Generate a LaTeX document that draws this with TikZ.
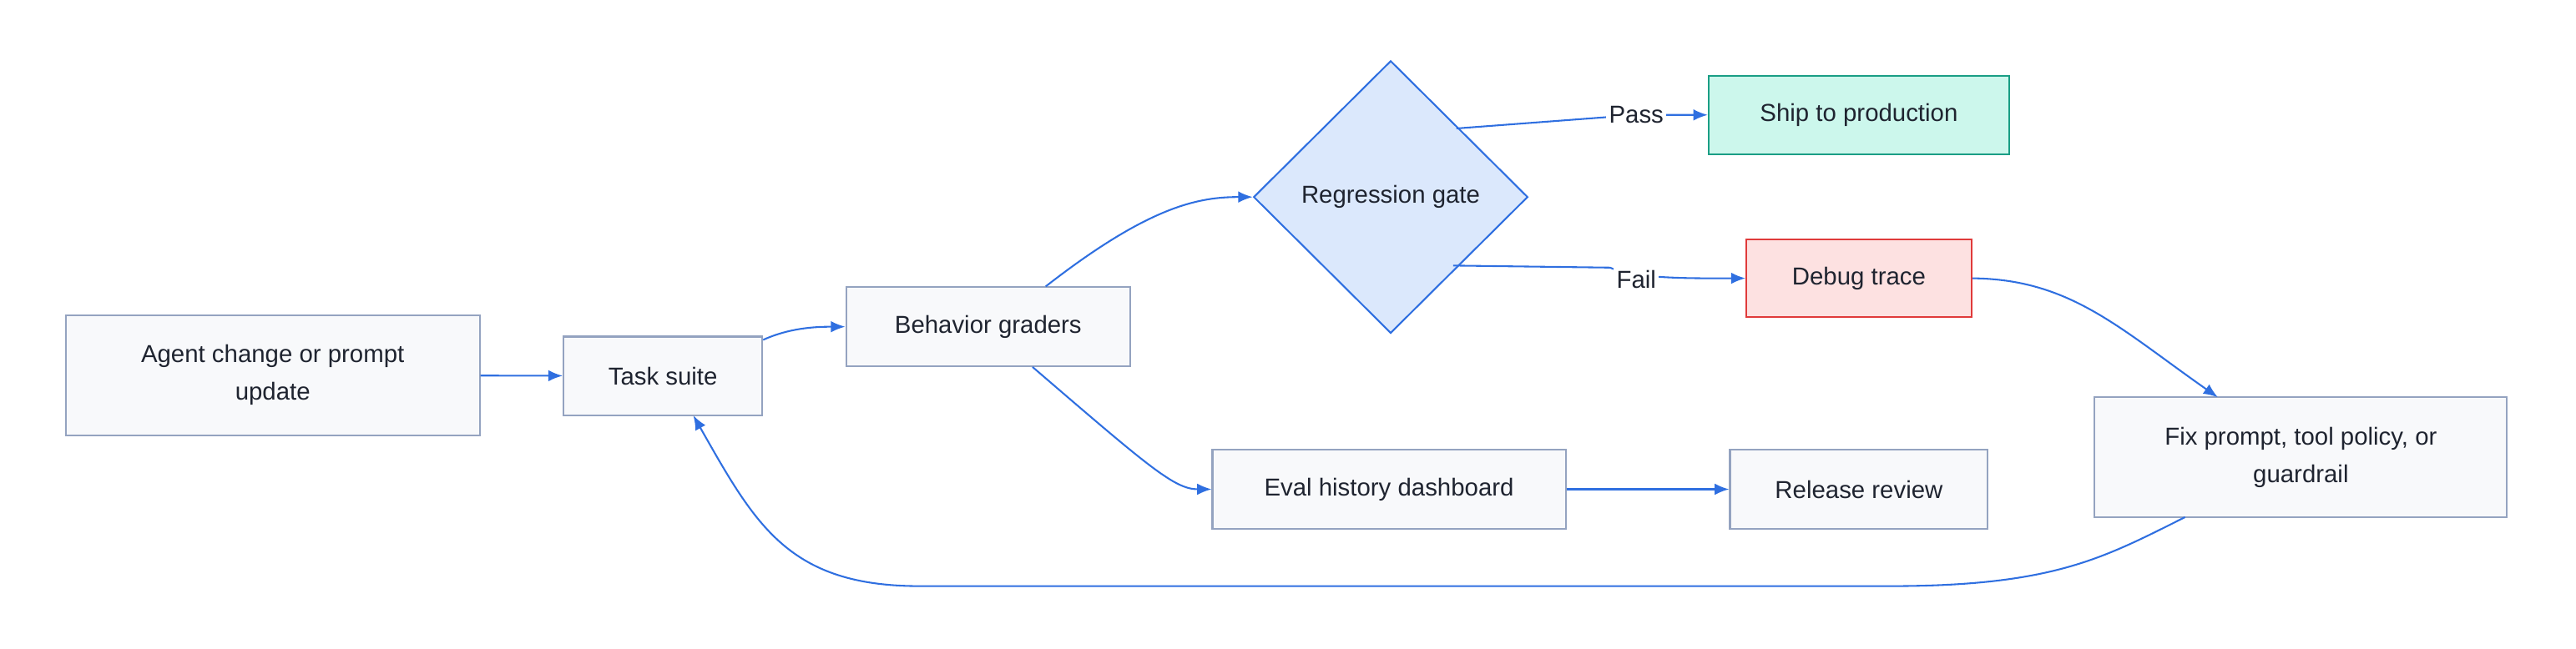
\documentclass[tikz,border=0pt]{standalone}
\usepackage{fontspec}
\setmainfont{Liberation Sans}
\usetikzlibrary{shapes.geometric,arrows.meta}
\definecolor{boxfill}{HTML}{F8F9FB}
\definecolor{boxline}{HTML}{94A3C0}
\definecolor{edge}{HTML}{2F6FE0}
\definecolor{gatefill}{HTML}{DBE8FC}
\definecolor{shipfill}{HTML}{CCF7EC}
\definecolor{shipline}{HTML}{1A9E85}
\definecolor{dbgfill}{HTML}{FDE1E1}
\definecolor{dbgline}{HTML}{E03A3A}
\definecolor{txt}{HTML}{1F2430}
\tikzset{
 box/.style={draw=boxline,fill=boxfill,line width=0.6pt,rectangle,align=center,text=txt,font=\fontsize{8.5}{13}\selectfont,inner sep=0pt},
 conn/.style={draw=edge,line width=0.6pt,-{Latex[length=5pt,width=4pt]}},
 lbl/.style={fill=white,text=txt,font=\fontsize{8.5}{10}\selectfont,inner sep=1pt}
}
\begin{document}
\begin{tikzpicture}[x=0.02cm,y=-0.02cm]
\useasboundingbox (0,0) rectangle (1568,395);
\node[box,minimum width=5.04cm,minimum height=1.46cm] (agent) at (166,228.5) {Agent change or prompt\\update};
\node[box,minimum width=2.42cm,minimum height=0.96cm] (task) at (403.5,229) {Task suite};
\node[box,minimum width=3.46cm,minimum height=0.96cm] (grad) at (601.5,199) {Behavior graders};
\node[draw=edge,fill=gatefill,diamond,line width=0.6pt,minimum width=3.34cm,minimum height=3.32cm,inner sep=0pt,text=txt,font=\fontsize{8.5}{10}\selectfont] (gate) at (846.5,120) {Regression gate};
\node[box,draw=shipline,fill=shipfill,minimum width=3.66cm,minimum height=0.96cm] (ship) at (1131.5,70) {Ship to production};
\node[box,draw=dbgline,fill=dbgfill,minimum width=2.74cm,minimum height=0.94cm] (dbg) at (1131.5,169.5) {Debug trace};
\node[box,minimum width=4.3cm,minimum height=0.96cm] (eval) at (845.5,298) {Eval history dashboard};
\node[box,minimum width=3.14cm,minimum height=0.96cm] (rel) at (1131.5,298) {Release review};
\node[box,minimum width=5.02cm,minimum height=1.46cm] (fix) at (1400.5,278.5) {Fix prompt, tool policy, or\\guardrail};
\draw[conn] (agent) -- (task);
\draw[conn] (task.east) ++(0,-22) .. controls (480,200) and (495,199) .. (grad.west);
\draw[conn] (grad.north) ++(35,0) .. controls (700,125) and (730,120) .. (gate.west);
\draw[conn] (grad.south) ++(27,0) .. controls (700,285) and (715,298) .. (eval.west);
\draw[conn] (gate.north east) ++(-2,0) -- (996,70) -- (ship.west) node[pos=0,lbl] {Pass};
\draw[conn] (gate.south east) ++(-4,0) -- (980,163) .. controls (996,170) and (1030,169.5) .. (dbg.west);
\node[lbl] (faillbl) at (996,170) {Fail};
\draw[conn] (dbg.east) .. controls (1260,170) and (1290,200) .. (1350,242);
\draw[conn] (eval) -- (rel);
\coordinate (fixs) at (1330,315);
\draw[conn] (fixs) .. controls (1280,340) and (1250,357) .. (1150,357) -- (560,357) .. controls (480,357) and (460,320) .. (422,253);
\end{tikzpicture}
\end{document}
